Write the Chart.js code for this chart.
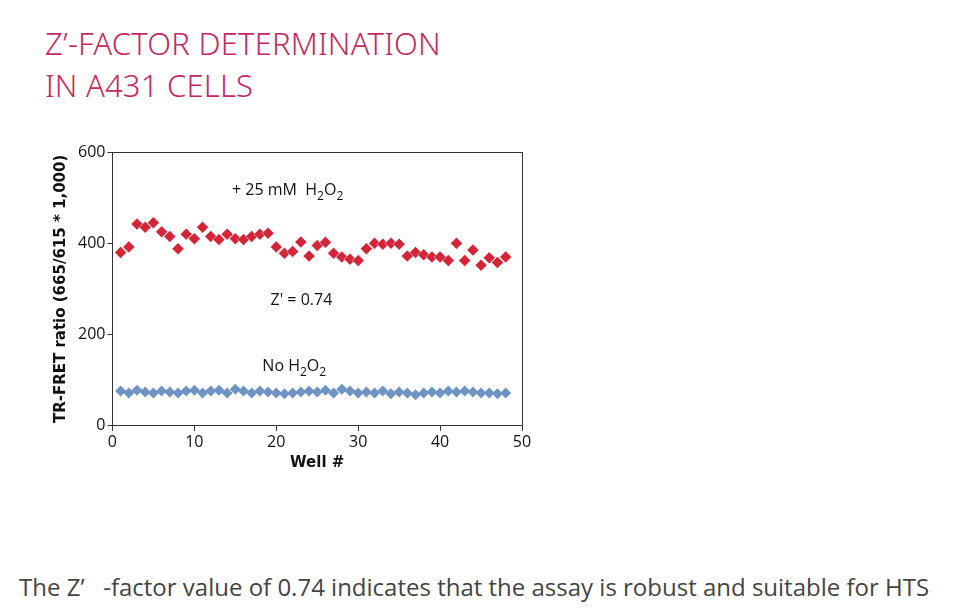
<!DOCTYPE html>
<html><head><meta charset="utf-8">
<script src="https://cdn.jsdelivr.net/npm/chart.js@4"></script>
<style>
body{margin:0;width:968px;height:615px;background:#fff;font-family:"Open Sans",sans-serif;position:relative;overflow:hidden}
h1{position:absolute;left:45px;top:22px;margin:0;font-weight:300;font-size:31px;line-height:42px;color:#c42a5e;font-family:"Noto Sans",sans-serif;letter-spacing:0.2px}
#wrap{position:absolute;left:48px;top:130px;width:492px;height:342px}
p{position:absolute;left:19px;top:570px;margin:0;font-size:24px;color:#444}
</style></head><body>
<h1>Z’-FACTOR DETERMINATION<br>IN A431 CELLS</h1>
<div id="wrap"><canvas id="c"></canvas></div>
<p>The Z’&nbsp;&nbsp; -factor value of 0.74 indicates that the assay is robust and suitable for HTS</p>
<script>
const wells = Array.from({length: 48}, (_, i) => i + 1);
const withH2O2 = [380,392,442,435,445,425,415,388,420,410,435,415,408,420,410,408,415,420,422,392,378,382,403,372,395,402,378,370,365,362,388,400,398,400,398,372,380,375,370,370,362,400,362,385,352,368,358,370];
const noH2O2 = [76,72,78,74,72,76,74,72,76,78,72,76,78,72,80,76,72,76,74,72,70,72,74,76,74,78,72,80,76,72,74,72,76,70,74,72,68,72,74,72,76,74,76,74,72,72,70,72];
const xTicks = [0,10,20,30,40,50];
const yTicks = [0,200,400,600];

const labels = {
  id: "labels",
  afterDatasetsDraw(chart) {
    const {ctx, scales: {x, y}} = chart;
    ctx.save();
    ctx.fillStyle = "#111";
    ctx.textAlign = "left";
    const sub = (txt, px, py) => {
      let cx = px;
      for (const [t, s] of txt) {
        ctx.font = s ? "12px 'Open Sans'" : "16px 'Open Sans'";
        ctx.fillText(t, cx, s ? py + 5 : py);
        cx += ctx.measureText(t).width;
      }
    };
    sub([["+ 25 mM  H",0],["2",1],["O",0],["2",1]], x.getPixelForValue(14.6), y.getPixelForValue(505));
    sub([["Z' = 0.74",0]], x.getPixelForValue(19.3), y.getPixelForValue(265));
    sub([["No H",0],["2",1],["O",0],["2",1]], x.getPixelForValue(18.3), y.getPixelForValue(120));
    ctx.restore();
  }
};

const axisGrid = {display: true, drawOnChartArea: false, drawTicks: true, tickLength: 5, color: "#333"};

new Chart(document.getElementById("c"), {
  type: "scatter",
  data: {
    datasets: [
      {label: "+25 mM H2O2", data: wells.map((w, i) => ({x: w, y: withH2O2[i]})), pointStyle: "rectRot", radius: 6, backgroundColor: "#d42438", borderColor: "#fff", borderWidth: 0.5},
      {label: "No H2O2", data: wells.map((w, i) => ({x: w, y: noH2O2[i]})), pointStyle: "rectRot", radius: 5.5, backgroundColor: "#6e94c4", borderColor: "#6e94c4", borderWidth: 0},
    ],
  },
  options: {
    responsive: true, maintainAspectRatio: false, animation: false,
    layout: {padding: {top: 14, right: 10}},
    plugins: {legend: {display: false}, tooltip: {enabled: false}},
    scales: {
      x: {min: 0, max: 50, afterBuildTicks: a => { a.ticks = xTicks.map(v => ({value: v})); },
        border: {color: "#333"}, grid: axisGrid,
        ticks: {color: "#111", padding: 2, font: {size: 16, family: "Open Sans"}},
        title: {display: true, text: "Well #", color: "#111", font: {size: 15, weight: "bold", family: "DejaVu Sans"}, padding: 0}},
      y: {min: 0, max: 600, afterBuildTicks: a => { a.ticks = yTicks.map(v => ({value: v})); },
        border: {color: "#333"}, grid: axisGrid,
        ticks: {color: "#111", padding: 2, font: {size: 16, family: "Open Sans"}},
        title: {display: true, text: "TR-FRET ratio (665/615 * 1,000)", color: "#111", font: {size: 15, weight: "bold", family: "DejaVu Sans"}, padding: {bottom: 6}}},
      x2: {position: "top", min: 0, max: 50, border: {color: "#333"}, grid: {display: false}, ticks: {display: false}},
      y2: {position: "right", min: 0, max: 600, border: {color: "#333"}, grid: {display: false}, ticks: {display: false}},
    },
  },
  plugins: [labels],
});
</script>
</body></html>
